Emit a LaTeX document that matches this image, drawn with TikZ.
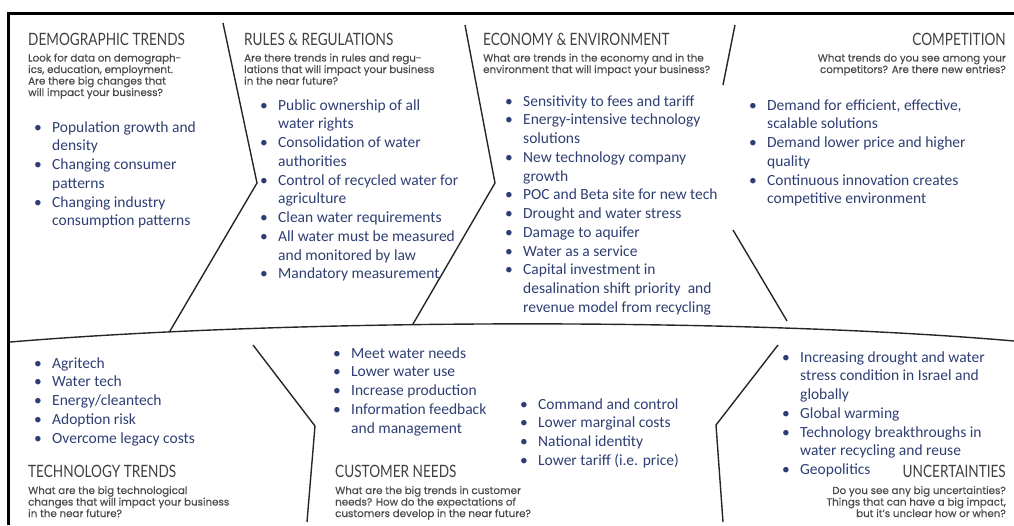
\documentclass[tikz,border=0pt]{standalone}
\usepackage{fontspec}
\setmainfont{Carlito}
\newfontfamily\headfont[FakeStretch=0.8]{Lato}
\newfontfamily\subfont[FakeBold=0.4]{Poppins}
\definecolor{bulletblue}{RGB}{46,62,115}
\definecolor{headgray}{RGB}{64,64,64}
\definecolor{subgray}{RGB}{75,75,75}
\newcommand{\itm}{\textbullet&}
\newcommand{\blist}[1]{\begin{tabular}[t]{@{}p{18pt}@{}l@{}}#1\end{tabular}}
\newcommand{\lsub}[1]{\begin{tabular}[t]{@{}l@{}}#1\end{tabular}}
\newcommand{\rsub}[1]{\begin{tabular}[t]{@{}r@{}}#1\end{tabular}}
\begin{document}
\begin{tikzpicture}[x=1pt,y=-1pt,
  head/.style={font=\headfont\fontsize{17}{20}\selectfont,text=headgray,inner sep=0pt},
  sub/.style={font=\subfont\fontsize{10.3}{11.5}\selectfont,text=subgray,inner sep=0pt},
  items/.style={font=\fontsize{15.5}{18.75}\selectfont,text=bulletblue,inner sep=0pt},
  sep/.style={line width=1.4pt,draw=black!85}]
\useasboundingbox (0,0) rectangle (1014,525);
% frame and middle line
\draw[line width=3pt] (8.5,525)--(8.5,13.5)--(1014,13.5);
\draw[sep] (10,342) .. controls (300,318) and (750,318) .. (1014,341);
% upper chevrons
\draw[sep] (223,23)--(257,183)--(170,331);
\draw[sep] (465,25)--(495,183)--(413,324);
\draw[sep] (735,25)--(723,85) (733,230)--(787,321);
% lower chevrons
\draw[sep] (253,345)--(315,426)--(307,522);
\draw[sep] (778,345)--(716,425)--(723,522);

% demographic trends
\node[head,anchor=base west] (demohead) at (28,45) {DEMOGRAPHIC TRENDS};
\node[sub,anchor=base west] (demosub) at (28,61.5) {\lsub{Look for data on demograph-\\ics, education, employment.\\Are there big changes that\\will impact your business?}};
\node[items,anchor=base west] (demolist) at (34,132) {\blist{\itm Population growth and\\ & density\\ \itm Changing consumer\\ & patterns\\ \itm Changing industry\\ & consumption patterns}};

% rules and regulations
\node[head,anchor=base west] (ruleshead) at (244,45) {RULES \& REGULATIONS};
\node[sub,anchor=base west] (rulessub) at (244,61.5) {\lsub{Are there trends in rules and regu-\\lations that will impact your business\\in the near future?}};
\node[items,anchor=base west] (ruleslist) at (260,110) {\blist{\itm Public ownership of all\\ & water rights\\ \itm Consolidation of water\\ & authorities\\ \itm Control of recycled water for\\ & agriculture\\ \itm Clean water requirements\\ \itm All water must be measured\\ & and monitored by law\\ \itm Mandatory measurement}};

% economy and environment
\node[head,anchor=base west] (ecohead) at (483,45) {ECONOMY \& ENVIRONMENT};
\node[sub,anchor=base west] (ecosub) at (483,61.5) {\lsub{What are trends in the economy and in the\\environment that will impact your business?}};
\node[items,anchor=base west] (ecolist) at (505,106) {\blist{\itm Sensitivity to fees and tariff\\ \itm Energy-intensive technology\\ & solutions\\ \itm New technology company\\ & growth\\ \itm POC and Beta site for new tech\\ \itm Drought and water stress\\ \itm Damage to aquifer\\ \itm Water as a service\\ \itm Capital investment in\\ & desalination shift priority\ \ and\\ & revenue model from recycling}};

% competition
\node[head,anchor=base east] (comphead) at (1006,45) {COMPETITION};
\node[sub,anchor=base east] (compsub) at (1006,61.5) {\rsub{What trends do you see among your\\competitors? Are there new entries?}};
\node[items,anchor=base west] (complist) at (749,110) {\blist{\itm Demand for efficient, effective,\\ & scalable solutions\\ \itm Demand lower price and higher\\ & quality\\ \itm Continuous innovation creates\\ & competitive environment}};

% technology trends
\node[items,anchor=base west] (techlist) at (34,368) {\blist{\itm Agritech\\ \itm Water tech\\ \itm Energy/cleantech\\ \itm Adoption risk\\ \itm Overcome legacy costs}};
\node[head,anchor=base west] (techhead) at (28,477) {TECHNOLOGY TRENDS};
\node[sub,anchor=base west] (techsub) at (28,494) {\lsub{What are the big technological\\changes that will impact your business\\in the near future?}};

% customer needs
\node[items,anchor=base west] (custlist) at (333,358) {\blist{\itm Meet water needs\\ \itm Lower water use\\ \itm Increase production\\ \itm Information feedback\\ & and management}};
\node[items,anchor=base west] (custlistb) at (520,409) {\blist{\itm Command and control\\ \itm Lower marginal costs\\ \itm National identity\\ \itm Lower tariff (i.e. price)}};
\node[head,anchor=base west] (custhead) at (335,477) {CUSTOMER NEEDS};
\node[sub,anchor=base west] (custsub) at (335,494) {\lsub{What are the big trends in customer\\needs? How do the expectations of\\customers develop in the near future?}};

% uncertainties
\node[items,anchor=base west] (unclist) at (782,362) {\blist{\itm Increasing drought and water\\ & stress condition in Israel and\\ & globally\\ \itm Global warming\\ \itm Technology breakthroughs in\\ & water recycling and reuse\\ \itm Geopolitics}};
\node[head,anchor=base east] (unchead) at (1006,477) {UNCERTAINTIES};
\node[sub,anchor=base east] (uncsub) at (1006,494) {\rsub{Do you see any big uncertainties?\\Things that can have a big impact,\\but it’s unclear how or when?}};
\end{tikzpicture}
\end{document}
